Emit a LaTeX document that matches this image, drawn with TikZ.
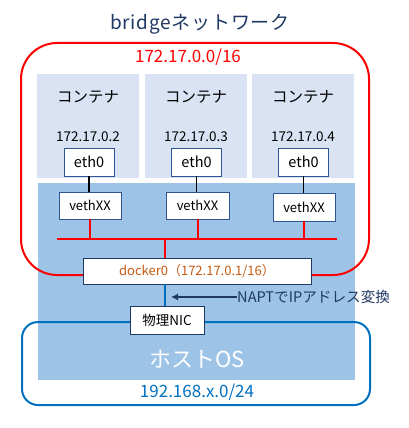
\documentclass[tikz,border=0pt]{standalone}
\usepackage{fontspec}
\setmainfont{Noto Sans CJK JP}
\usetikzlibrary{arrows.meta}
\definecolor{cfill}{HTML}{DAE3F3}
\definecolor{hfill}{HTML}{9DC3E6}
\definecolor{navy}{HTML}{203864}
\definecolor{bborder}{HTML}{2F5597}
\definecolor{hblue}{HTML}{0070C0}
\definecolor{dorange}{HTML}{C55A11}
\tikzset{
  ifbox/.style={draw=bborder, fill=white, line width=0.8pt, inner sep=0pt, font=\fontsize{13}{15}\selectfont},
  ctbox/.style={fill=cfill, draw=none, inner sep=0pt, minimum width=102pt, minimum height=104pt},
  redline/.style={red, line width=2pt},
}
\begin{document}
\begin{tikzpicture}[x=1pt,y=-1pt]
\useasboundingbox (0,0) rectangle (409,428);
% host region
\fill[hfill] (38,183) rectangle (355,380);
% containers
\node[ctbox, anchor=north west] (c1) at (37,74) {};
\node[ctbox, anchor=north west] (c2) at (145,74) {};
\node[ctbox, anchor=north west] (c3) at (252,74) {};
% title
\node[text=navy, font=\fontsize{19}{21}\selectfont\addfontfeature{LetterSpace=4}] (title) at (200,24) {bridgeネットワーク};
% red network
\draw[red, line width=2pt, rounded corners=36pt] (21,43) rectangle (369,275);
\node[text=red, font=\fontsize{17}{19}\selectfont] (net) at (188,57) {172.17.0.0/16};
% host
\draw[hblue, line width=2pt, rounded corners=16pt] (22,322) rectangle (370,405);
\node[text=white, font=\fontsize{22}{24}\selectfont] (hos) at (197,359) {ホストOS};
\node[text=hblue, font=\fontsize{17}{19}\selectfont] (hnet) at (197,392) {192.168.x.0/24};
% container texts
\foreach \i/\x/\ip in {1/88/2, 2/196/3, 3/303/4}{
  \node[font=\fontsize{15.5}{17}\selectfont] (ct\i) at (\x,97) {コンテナ};
  \node[font=\fontsize{13.5}{15}\selectfont] (ip\i) at (\x,137) {172.17.0.\ip};
}
\node[ifbox, minimum width=50pt, minimum height=28pt, font=\fontsize{14.5}{16}\selectfont] (e1) at (89,162) {eth0};
\node[ifbox, minimum width=50pt, minimum height=28pt, font=\fontsize{14.5}{16}\selectfont] (e2) at (196.5,162) {eth0};
\node[ifbox, minimum width=50pt, minimum height=28pt, font=\fontsize{14.5}{16}\selectfont] (e3) at (303.5,162) {eth0};
\node[ifbox, minimum width=62pt, minimum height=27pt] (v1) at (90,205.5) {vethXX};
\node[ifbox, minimum width=63pt, minimum height=27pt] (v2) at (197.5,205.5) {vethXX};
\node[ifbox, minimum width=62pt, minimum height=28pt] (v3) at (304,207) {vethXX};
\draw[black, line width=1.2pt] (e1.south) -- (v1.north -| e1.south);
\draw[black, line width=1.2pt] (e2.south) -- (v2.north -| e2.south);
\draw[black, line width=1.2pt] (e3.south) -- (v3.north -| e3.south);
% bus
\coordinate (busL) at (57,239);
\coordinate (busR) at (337,239);
\draw[redline] (busL) -- (busR);
\draw[redline] (v1.south) -- (v1.south |- busL);
\draw[redline] (v2.south) -- (v2.south |- busL);
\draw[redline] (v3.south) -- (v3.south |- busL);
% docker0
\node[draw=navy, fill=white, line width=0.8pt, minimum width=228pt, minimum height=26pt, inner sep=0pt, text=dorange, font=\fontsize{13}{15}\selectfont] (d0) at (197,271) {docker0（172.17.0.1/16）};
\coordinate (bj) at (165,239);
\draw[redline] (bj) -- (bj |- d0.north);
% NIC
\node[draw=navy, fill=white, line width=0.8pt, minimum width=74pt, minimum height=28pt, inner sep=0pt, font=\fontsize{13.5}{15}\selectfont] (nic) at (167,320) {物理NIC};
\draw[hblue, line width=1.5pt] (d0.south -| bj) -- (nic.north -| bj);
% arrow
\coordinate (atip) at (171,297);
\node[text=navy, anchor=west, inner sep=0pt, font=\fontsize{14.6}{17}\selectfont] (napt) at (237,297) {NAPTでIPアドレス変換};
\draw[navy, line width=1.5pt, -{Latex[length=7pt,width=7pt]}] (napt.west) -- (atip);
\end{tikzpicture}
\end{document}
